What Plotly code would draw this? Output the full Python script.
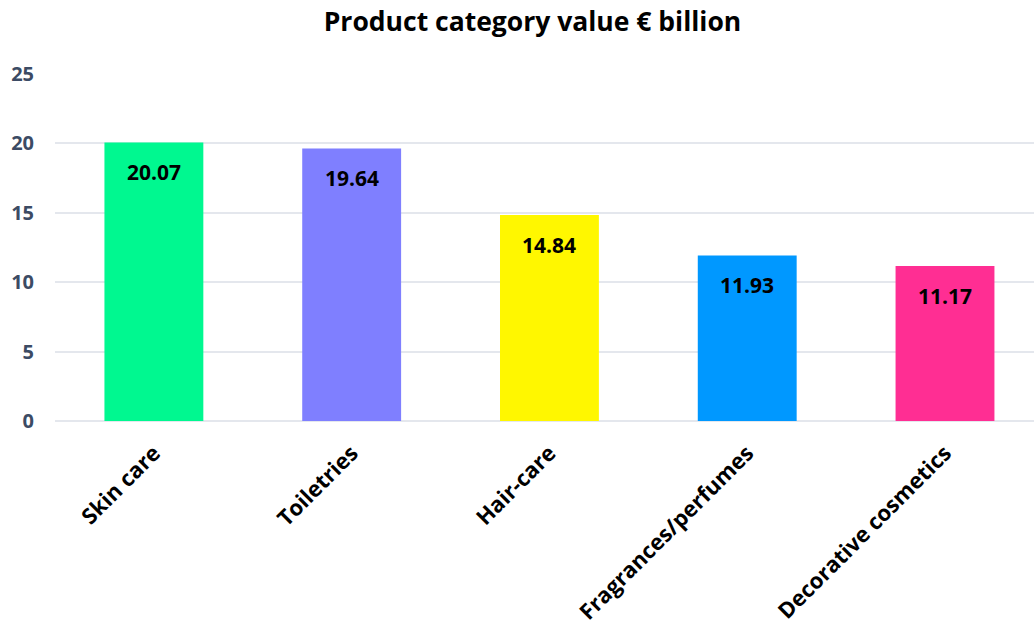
import plotly.graph_objects as go

categories = ["Skin care", "Toiletries", "Hair-care", "Fragrances/perfumes", "Decorative cosmetics"]
values = [20.07, 19.64, 14.84, 11.93, 11.17]
colors = ["#00F890", "#7F7FFF", "#FFF700", "#0098FF", "#FF2E93"]
tick_vals = [0, 5, 10, 15, 20, 25]

fig = go.Figure()
fig.add_trace(go.Bar(
    x=categories, y=values, marker=dict(color=colors, line=dict(width=0)),
    width=0.5, hoverinfo="x+y",
))
for c, v in zip(categories, values):
    fig.add_annotation(x=c, y=v, text=f"{v:.2f}", showarrow=False,
                       yanchor="top", yshift=-14,
                       font=dict(family="Open Sans", size=21, color="#000000", weight="bold"))

fig.update_layout(
    width=1034, height=624,
    margin=dict(l=55, r=0, t=74, b=203),
    paper_bgcolor="white", plot_bgcolor="white",
    title=dict(text="Product category value € billion", x=0.515, xanchor="center",
               y=0.965, yanchor="middle",
               font=dict(family="Open Sans", size=26.5, color="#000000", weight="bold")),
    showlegend=False,
    xaxis=dict(range=[-0.5, 4.45], tickangle=-45, showgrid=False, showline=False,
               tickfont=dict(family="Open Sans", size=22, color="#000000", weight="bold"),
               ticks="", ticklabelstandoff=14),
    yaxis=dict(range=[0, 25], tickvals=tick_vals, showgrid=True, gridcolor="#E4E7ED",
               gridwidth=2, zeroline=True, zerolinecolor="#E4E7ED", zerolinewidth=2,
               tickfont=dict(family="Open Sans", size=20, color="#3C4B64", weight="bold"),
               ticks="", ticklabelstandoff=20),
)
fig.write_html("out.html")
